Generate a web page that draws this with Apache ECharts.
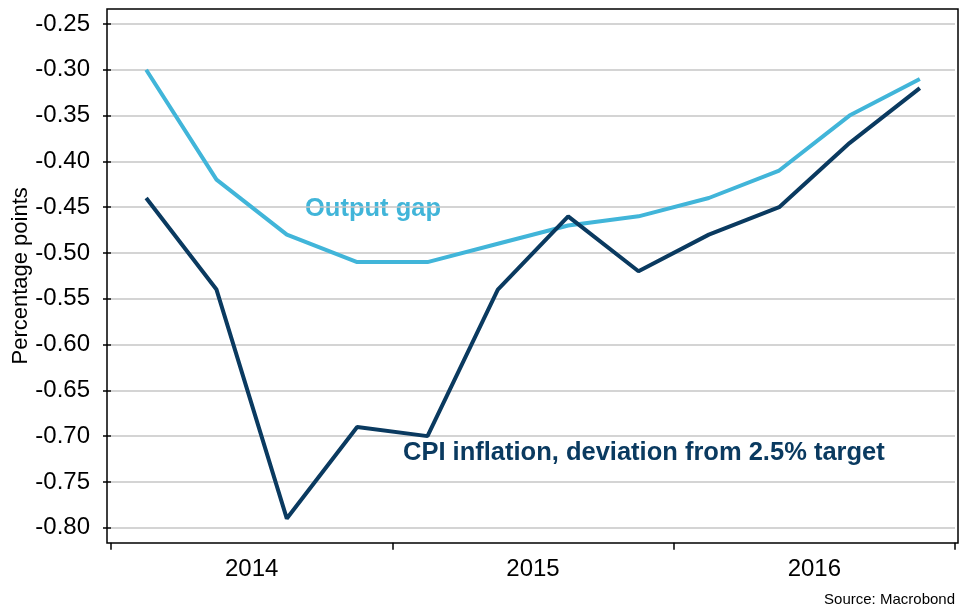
<!DOCTYPE html>
<html>
<head>
<meta charset="utf-8">
<script src="https://cdn.jsdelivr.net/npm/echarts@6/dist/echarts.min.js"></script>
<style>
  html, body { margin: 0; padding: 0; background: #fff; }
  #chart { width: 961px; height: 611px; }
</style>
</head>
<body>
<div id="chart"></div>
<script>
// quarterly data, 2014 Q1 .. 2016 Q4
var quarters = ['2014Q1', '2014Q2', '2014Q3', '2014Q4', '2015Q1', '2015Q2', '2015Q3', '2015Q4', '2016Q1', '2016Q2', '2016Q3', '2016Q4'];
var years = ['2014', '2015', '2016'];
var outputGap = [-0.30, -0.42, -0.48, -0.51, -0.51, -0.49, -0.47, -0.46, -0.44, -0.41, -0.35, -0.31];
var cpiDeviation = [-0.44, -0.54, -0.79, -0.69, -0.70, -0.54, -0.46, -0.52, -0.48, -0.45, -0.38, -0.32];

var lightBlue = '#41b5d9';
var darkBlue = '#0a3a60';
var fontFamily = '"Liberation Sans", Arial, sans-serif';

var myChart = echarts.init(document.getElementById('chart'), null, { renderer: 'canvas' });

var option = {
    animation: false,
    backgroundColor: '#fff',
    grid: [
        // plotting area, -0.25 .. -0.80
        { left: 111, right: 6, top: 24, bottom: 83.3, outerBoundsMode: 'none' },
        // outer frame
        { left: 107, right: 3, top: 9, bottom: 68, outerBoundsMode: 'none', show: true, borderColor: '#000', borderWidth: 1.5, backgroundColor: 'transparent' }
    ],
    xAxis: [
        {
            type: 'category',
            data: quarters,
            gridIndex: 0,
            boundaryGap: true,
            show: false
        },
        {
            type: 'category',
            data: years,
            gridIndex: 0,
            position: 'bottom',
            offset: 15,
            boundaryGap: true,
            axisLine: { show: false },
            axisTick: { show: true, length: 7, lineStyle: { color: '#000', width: 1.5 } },
            axisLabel: { color: '#000', fontSize: 24, fontFamily: fontFamily, margin: 15 },
            splitLine: { show: false }
        },
        { type: 'value', gridIndex: 1, show: false }
    ],
    yAxis: [
        {
            type: 'value',
            gridIndex: 0,
            min: -0.80,
            max: -0.25,
            interval: 0.05,
            name: 'Percentage points',
            nameLocation: 'middle',
            nameGap: 79,
            nameRotate: 90,
            nameMoveOverlap: false,
            nameTextStyle: { color: '#000', fontSize: 22, fontFamily: fontFamily },
            axisLine: { show: false },
            axisTick: { show: true, length: 8, lineStyle: { color: '#000', width: 1.5 } },
            axisLabel: {
                color: '#000',
                fontSize: 24,
                fontFamily: fontFamily,
                margin: 21,
                formatter: function (v) { return v.toFixed(2); }
            },
            splitLine: { show: true, lineStyle: { color: '#c6c6c6', width: 1.5 } }
        },
        { type: 'value', gridIndex: 1, show: false }
    ],
    graphic: [
        {
            type: 'text',
            left: 305,
            top: 196,
            style: { text: 'Output gap', fill: lightBlue, font: 'bold 25.5px ' + fontFamily }
        },
        {
            type: 'text',
            left: 403,
            top: 440,
            style: { text: 'CPI inflation, deviation from 2.5% target', fill: darkBlue, font: 'bold 25.5px ' + fontFamily }
        },
        {
            type: 'text',
            right: 6,
            top: 592,
            style: { text: 'Source: Macrobond', fill: '#000', font: '15px ' + fontFamily }
        }
    ],
    series: [
        {
            name: 'Output gap',
            type: 'line',
            xAxisIndex: 0,
            yAxisIndex: 0,
            data: outputGap,
            symbol: 'none',
            lineStyle: { color: lightBlue, width: 4 },
            z: 3
        },
        {
            name: 'CPI inflation, deviation from 2.5% target',
            type: 'line',
            xAxisIndex: 0,
            yAxisIndex: 0,
            data: cpiDeviation,
            symbol: 'none',
            lineStyle: { color: darkBlue, width: 4 },
            z: 4
        }
    ]
};

myChart.setOption(option);
</script>
</body>
</html>
